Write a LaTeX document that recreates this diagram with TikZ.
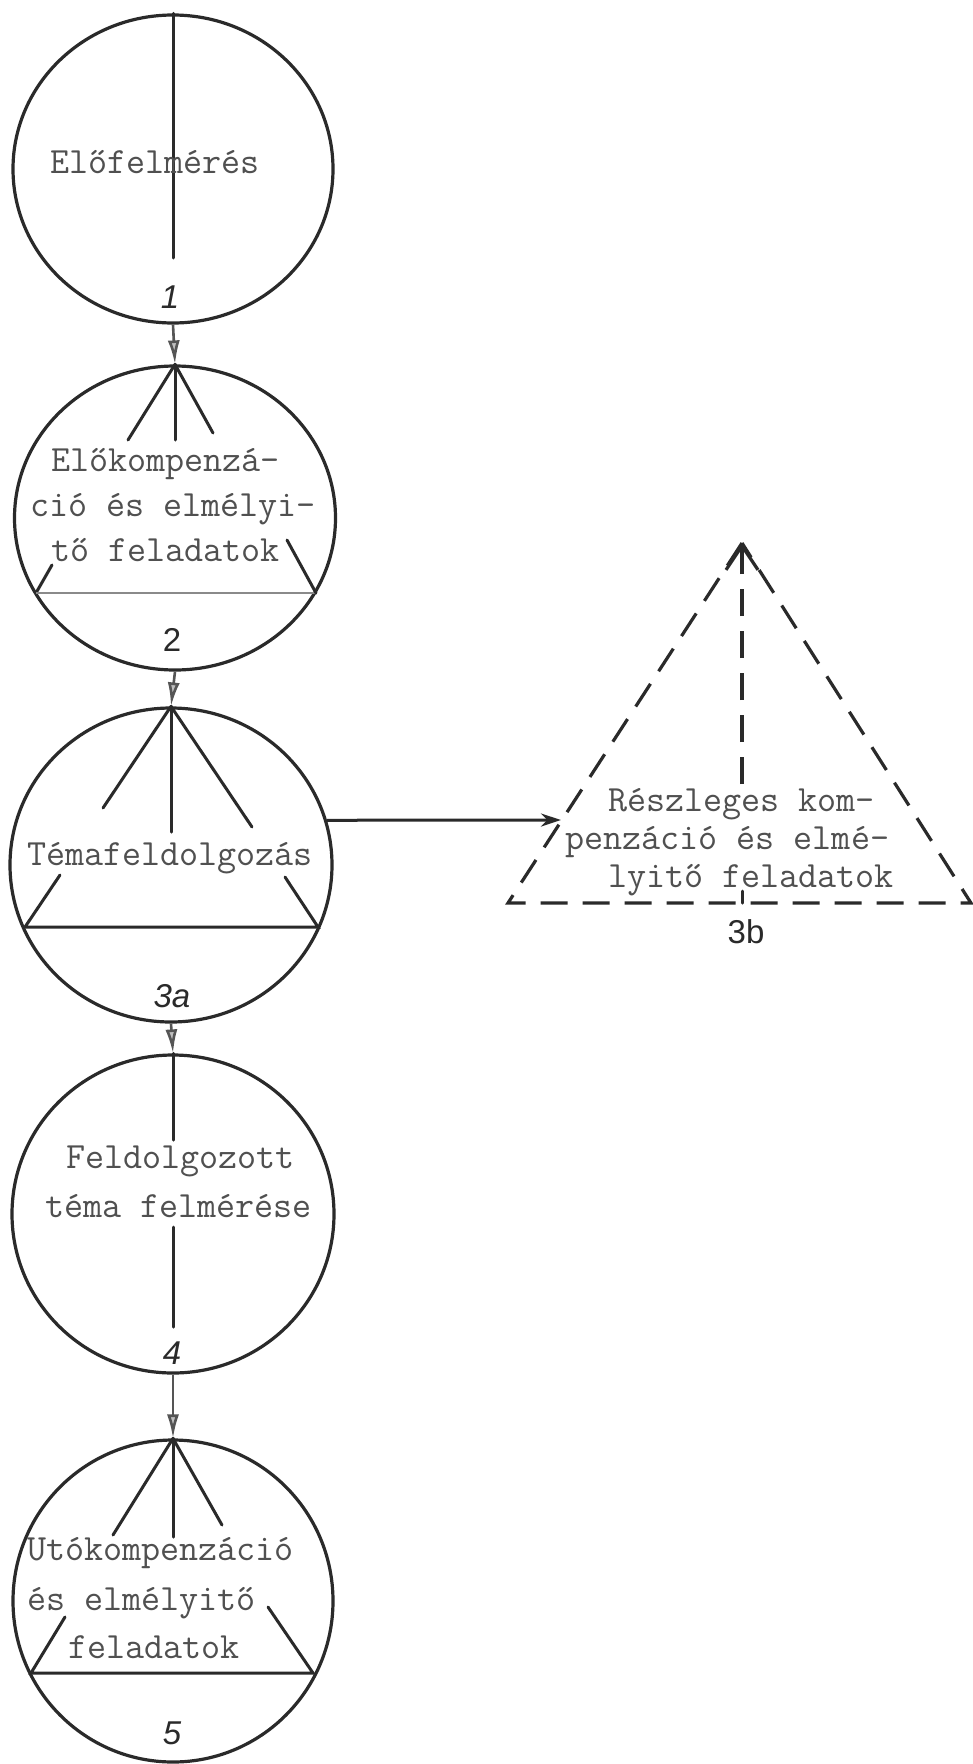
\documentclass[tikz,border=0pt]{standalone}
\usepackage{fontspec}
\setsansfont{Liberation Sans}
\usetikzlibrary{shapes.geometric,arrows.meta}
\definecolor{ink}{HTML}{2A2A2A}
\definecolor{typed}{HTML}{505050}
\begin{document}
\begin{tikzpicture}[x=1pt,y=-1pt,
  ring/.style={draw=ink,line width=3.2pt,ellipse,inner sep=0pt},
  inner/.style={draw=ink,line width=3pt,line cap=round},
  faint/.style={draw=ink!55,line width=2.2pt},
  flow/.style={draw=ink!80,line width=2.6pt,-{Latex[length=24pt,width=12pt,fill=black!25]}},
  hflow/.style={draw=ink,line width=3pt,-{Stealth[length=20pt,width=13pt]}},
  dashline/.style={draw=ink,line width=3.2pt,dash pattern=on 27pt off 15pt},
  tw/.style={font=\ttfamily\fontsize{37}{45}\selectfont,text=typed,inner sep=0pt,anchor=base west},
  num/.style={font=\sffamily\fontsize{33}{33}\selectfont,text=ink,inner sep=0pt}]
\fill[white] (0,0) rectangle (973,1764);
\useasboundingbox (0,0) rectangle (973,1764);

% circles
\node[ring,minimum width=320pt,minimum height=308pt] (c1) at (173,169) {};
\node[ring,minimum width=321pt,minimum height=304pt] (c2) at (175,518) {};
\node[ring,minimum width=322pt,minimum height=314pt] (c3) at (171,865) {};
\node[ring,minimum width=322pt,minimum height=318pt] (c4) at (173,1214) {};
\node[ring,minimum width=320pt,minimum height=322pt] (c5) at (173,1601) {};

% circle 1
\draw[inner] (c1.north) -- (173,258);
\node[tw] (t1) at (50,173) {Előfelmérés};
\node[num] (n1) at (170,297) {\itshape 1};

% circle 2
\draw[inner] (c2.north) -- (128,440);
\draw[inner] (c2.north) -- (175,440);
\draw[inner] (c2.north) -- (213,433);
\draw[inner] (52,565) -- (36,593);
\draw[faint] (36,593) -- (316,593);
\draw[inner] (316,593) -- (287,540);
\node[tw] (t2a) at (51,471) {Előkompenzá-};
\node[tw] (t2b) at (30,516) {ció és elmélyi-};
\node[tw] (t2c) at (51,561) {tő feladatok};
\node[num] (n2) at (172,640) {2};

% circle 3a
\draw[inner] (c3.north) -- (103,808);
\draw[inner] (c3.north) -- (171,832);
\draw[inner] (c3.north) -- (252,827);
\draw[inner] (60,875) -- (25,927) -- (318,927) -- (285,877);
\node[tw] (t3) at (27,865) {Témafeldolgozás};
\node[num] (n3) at (172,996) {\itshape 3a};

% circle 4
\draw[inner] (c4.north) -- (173,1140);
\draw[inner] (173,1227) -- (173,1327);
\node[tw] (t4a) at (66,1168) {Feldolgozott};
\node[tw] (t4b) at (45,1217) {téma felmérése};
\node[num] (n4) at (172,1353) {\itshape 4};

% circle 5
\draw[inner] (c5.north) -- (113,1535);
\draw[inner] (c5.north) -- (173,1537);
\draw[inner] (c5.north) -- (222,1525);
\draw[inner] (65,1617) -- (31,1673) -- (313,1673) -- (268,1607);
\node[tw] (t5a) at (27,1560) {Utókompenzáció};
\node[tw] (t5b) at (27,1610) {és elmélyitő};
\node[tw] (t5c) at (68,1658) {feladatok};
\node[num] (n5) at (172,1733) {\itshape 5};

% vertical flow arrows
\draw[flow] (c1.south) -- (c2.north);
\draw[flow] (c2.south) -- (c3.north);
\draw[flow] (c3.south) -- (c4.north);
\draw[flow] (c4.south) -- (c5.north);

% triangle 3b
\coordinate (ta) at (742,543);
\coordinate (tl) at (508,903);
\coordinate (tr) at (971,903);
\coordinate (tin) at (561,820);
\coordinate (tv) at (742,784);
\coordinate (tw1) at (742,891);
\coordinate (tb) at (742,903);
\draw[dashline] (ta) -- (tl) -- (tr) -- (ta);
\draw[dashline,-{Straight Barb[length=24pt,width=32pt]}] (tv) -- (ta);
\draw[inner] (tw1) -- (tb);
\node[tw] (t6a) at (608,811) {Részleges kom-};
\node[tw] (t6b) at (565,849) {penzáció és elmé-};
\node[tw] (t6c) at (608,887) {lyitő feladatok};
\node[num] (n6) at (746,932) {3b};

% horizontal arrow
\draw[hflow] (c3.16) -- (tin);
\end{tikzpicture}
\end{document}
